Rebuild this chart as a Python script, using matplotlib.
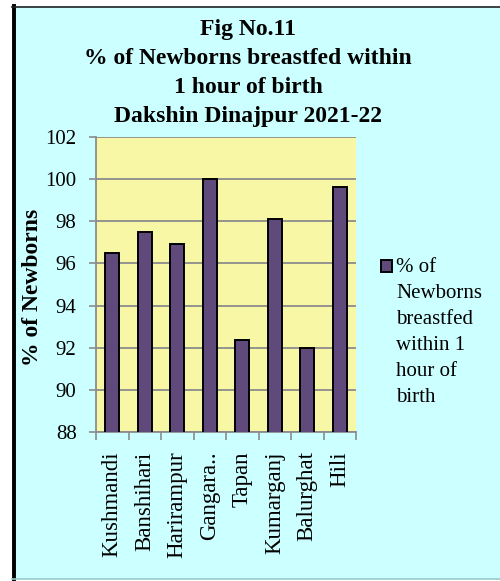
import matplotlib
matplotlib.use("Agg")
import matplotlib.pyplot as plt
from matplotlib.patches import Rectangle
from matplotlib.lines import Line2D

categories = ["Kushmandi", "Banshihari", "Harirampur", "Gangara..", "Tapan",
              "Kumarganj", "Balurghat", "Hili"]
values = [96.5, 97.5, 96.9, 100.0, 92.35, 98.1, 92.0, 99.65]
yticks = [88, 90, 92, 94, 96, 98, 100, 102]
title = "Fig No.11\n% of Newborns breastfed within\n1 hour of birth\nDakshin Dinajpur 2021-22"
ylabel = "% of Newborns"
legend_label = "% of\nNewborns\nbreastfed\nwithin 1\nhour of\nbirth"

plt.rcParams['font.family'] = ['Liberation Serif', 'DejaVu Serif']

W, H = 500, 581
fig = plt.figure(figsize=(W / 100, H / 100), dpi=100)
fig.patch.set_facecolor("white")

# chart area background and frame
fig.patches.append(Rectangle((12 / W, 1 - 579 / H), (W - 12) / W, (579 - 6) / H,
                             transform=fig.transFigure, facecolor="#CCFFFF",
                             edgecolor="none", zorder=-10))
fig.lines.append(Line2D([13.5 / W, 13.5 / W], [1 - 579 / H, 1 - 6 / H],
                        transform=fig.transFigure, color="black", lw=2.8, zorder=-5))
fig.lines.append(Line2D([12 / W, 1], [1 - 6.5 / H, 1 - 6.5 / H],
                        transform=fig.transFigure, color="#222222", lw=1.2, zorder=-5))
fig.lines.append(Line2D([12 / W, 1], [1 - 578.5 / H, 1 - 578.5 / H],
                        transform=fig.transFigure, color="#99CCCC", lw=1.2, zorder=-5))

left, right, top, bottom = 96, 356, 137, 432
ax = fig.add_axes([left / W, 1 - bottom / H, (right - left) / W, (bottom - top) / H])
ax.set_zorder(1)
ax.set_facecolor("#F7F7A6")

bar_color = "#604A7B"
x = range(len(categories))
bars = ax.bar(x, values, width=0.42, color=bar_color, edgecolor="black",
              linewidth=1.4, zorder=3, label=legend_label)
ax.set_ylim(88, 102)
ax.set_xlim(-0.5, len(categories) - 0.5)
ax.set_yticks(yticks)
ax.set_yticklabels([str(t) for t in yticks], fontsize=15)
ax.yaxis.grid(True, color="#8C8C8C", lw=1.3, zorder=1)
ax.set_axisbelow(True)

ax.set_xticks([i - 0.5 for i in range(len(categories) + 1)], minor=False)
ax.set_xticklabels([])
ax.set_xticks(list(x), minor=True)
ax.set_xticklabels(categories, minor=True, rotation=90, fontsize=16.5)
ax.tick_params(axis="x", which="minor", length=0, pad=14)
ax.tick_params(axis="x", which="major", length=6, color="#8C8C8C", width=1.2)
ax.tick_params(axis="y", length=5, color="#8C8C8C", width=1.2, pad=9)

for s in ["top", "right"]:
    ax.spines[s].set_visible(False)
for s in ["left", "bottom"]:
    ax.spines[s].set_color("#8C8C8C")
    ax.spines[s].set_linewidth(1.3)

ax.set_ylabel(ylabel, fontsize=17, fontweight="bold")
ax.yaxis.set_label_coords(-0.205, 0.49)

fig.text(248 / W, 1 - 19 / H, title, ha="center", va="top", fontsize=17,
         fontweight="bold", linespacing=1.5)

# legend (single series): swatch beside first line of the wrapped label
fig.patches.append(Rectangle((381 / W, 1 - 272 / H), 11 / W, 12 / H,
                             transform=fig.transFigure, facecolor=bar_color,
                             edgecolor="black", lw=1.4, zorder=2))
fig.text(396 / W, 1 - 258 / H, legend_label, ha="left", va="top", fontsize=15,
         linespacing=1.5)

fig.savefig("out.png", dpi=100)
